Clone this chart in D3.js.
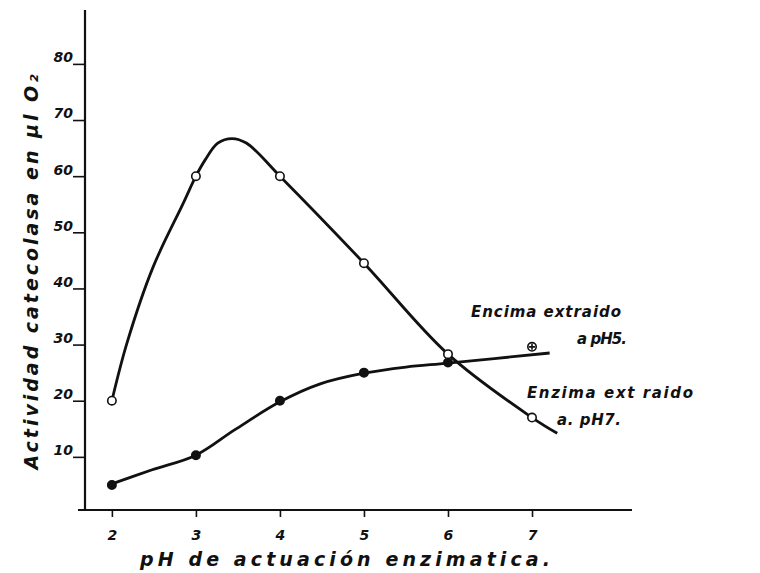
<!DOCTYPE html>
<html><head><meta charset="utf-8">
<script src="https://cdn.jsdelivr.net/npm/d3@7"></script>
<style>
html,body{margin:0;padding:0;background:#fff;}
text{font-family:"DejaVu Sans",sans-serif;font-style:italic;font-weight:bold;fill:#111;}
</style></head>
<body>
<svg id="chart" width="760" height="573"></svg>
<script>
// ---- data ----
const phTicks = [2, 3, 4, 5, 6, 7];
const yTicks = [10, 20, 30, 40, 50, 60, 70, 80];
const markerPH = [2, 3, 4, 5, 6, 7];
// Enzyme extracted at pH7 (open circles)
const enzPH7 = [20, 60, 60, 44.5, 28.3, 17];
// Enzyme extracted at pH5 (filled dots)
const enzPH5 = [5, 10.3, 20, 25, 26.8, 29.6];
// hand-drawn curves
const curvePH7x = [2, 2.18, 2.49, 2.85, 3, 3.11, 3.26, 3.43, 3.6, 4, 5, 6, 7, 7.3];
const curvePH7y = [20, 30.3, 43.8, 55.2, 60, 62.9, 65.9, 66.7, 65.9, 60, 44.5, 28.3, 17, 14.2];
const curvePH5x = [2, 2.48, 3, 3.46, 4, 4.48, 5, 5.5, 6, 7.21];
const curvePH5y = [5.2, 7.7, 10.3, 14.8, 19.8, 23.0, 24.9, 26, 26.7, 28.5];
const labelsPH5 = ["Encima extraido", "a  pH5."];
const labelsPH7 = ["Enzima ext raido", "a. pH7."];
const xTitle = "pH de actuación enzimatica.";
const yTitle = "Actividad catecolasa en µl O₂";

// ---- layout ----
const svg = d3.select("#chart");
const x = d3.scaleLinear().domain([1.68, 8.19]).range([85, 632]);
const y = d3.scaleLinear().domain([0, 89.6]).range([513, 10]);
const axisY0 = 510;

// axes lines
svg.append("line").attr("x1", 85).attr("x2", 85).attr("y1", 10).attr("y2", axisY0 + 1)
  .attr("stroke", "#111").attr("stroke-width", 2.2);
svg.append("line").attr("x1", 78).attr("x2", 632).attr("y1", axisY0).attr("y2", axisY0)
  .attr("stroke", "#111").attr("stroke-width", 2.2);

// y axis ticks
const yAxis = d3.axisLeft(y).tickValues(yTicks).tickSize(12).tickFormat(d3.format("d"));
const gy = svg.append("g").attr("transform", "translate(85,0)").call(yAxis);
gy.select(".domain").remove();
gy.selectAll(".tick line").attr("stroke", "#111").attr("stroke-width", 1.6);
gy.selectAll(".tick text").attr("x", -12).attr("dy", "-0.15em")
  .style("font-size", "14px").style("font-family", "DejaVu Sans").attr("fill", "#111");

// x axis ticks
const xAxis = d3.axisBottom(x).tickValues(phTicks).tickSize(7).tickFormat(d3.format("d"));
const gx = svg.append("g").attr("transform", `translate(0,${axisY0})`).call(xAxis);
gx.select(".domain").remove();
gx.selectAll(".tick line").attr("stroke", "#111").attr("stroke-width", 1.6);
gx.selectAll(".tick text").attr("y", 20).attr("dy", "0.71em")
  .style("font-size", "14px").style("font-family", "DejaVu Sans").attr("fill", "#111");

// titles
svg.append("text").attr("x", 345).attr("y", 566).attr("text-anchor", "middle")
  .attr("textLength", 410).attr("lengthAdjust", "spacing")
  .style("font-size", "19px").text(xTitle);
svg.append("text").attr("transform", "translate(38,272) rotate(-90)")
  .attr("text-anchor", "middle").attr("textLength", 395).attr("lengthAdjust", "spacing")
  .style("font-size", "19px").text(yTitle);

// curves
const line = d3.line().x(d => x(d[0])).y(d => y(d[1])).curve(d3.curveCatmullRom.alpha(0.5));
const c7 = curvePH7x.map((v, i) => [v, curvePH7y[i]]);
const c5 = curvePH5x.map((v, i) => [v, curvePH5y[i]]);
svg.append("path").attr("d", line(c7)).attr("fill", "none").attr("stroke", "#111").attr("stroke-width", 2.8);
svg.append("path").attr("d", line(c5)).attr("fill", "none").attr("stroke", "#111").attr("stroke-width", 2.8);

// markers
const m5 = markerPH.map((v, i) => ({ph: v, val: enzPH5[i], last: i === markerPH.length - 1}));
svg.selectAll("circle.f").data(m5).enter().append("circle").attr("class", "f")
  .attr("cx", d => x(d.ph)).attr("cy", d => y(d.val)).attr("r", 4.2)
  .attr("fill", d => d.last ? "#fff" : "#111").attr("stroke", "#111").attr("stroke-width", 1.6);
svg.selectAll("path.lastmark").data(m5.filter(d => d.last)).enter().append("path")
  .attr("class", "lastmark")
  .attr("d", d => `M${x(d.ph) - 3},${y(d.val)} h6 M${x(d.ph)},${y(d.val) - 3} v6`)
  .attr("stroke", "#111").attr("stroke-width", 1.6);
const m7 = markerPH.map((v, i) => ({ph: v, val: enzPH7[i]}));
svg.selectAll("circle.o").data(m7).enter().append("circle").attr("class", "o")
  .attr("cx", d => x(d.ph)).attr("cy", d => y(d.val)).attr("r", 4.2)
  .attr("fill", "#fff").attr("stroke", "#111").attr("stroke-width", 1.6);

// curve labels
svg.append("text").attr("x", 471).attr("y", 317).attr("textLength", 150).attr("lengthAdjust", "spacing")
  .style("font-size", "15px").text(labelsPH5[0]);
svg.append("text").attr("x", 577).attr("y", 344).attr("textLength", 50).attr("lengthAdjust", "spacing")
  .style("font-size", "15px").text(labelsPH5[1]);
svg.append("text").attr("x", 527).attr("y", 398).attr("textLength", 166).attr("lengthAdjust", "spacing")
  .style("font-size", "15px").text(labelsPH7[0]);
svg.append("text").attr("x", 557).attr("y", 425).attr("textLength", 64).attr("lengthAdjust", "spacing")
  .style("font-size", "15px").text(labelsPH7[1]);
</script>
</body></html>
